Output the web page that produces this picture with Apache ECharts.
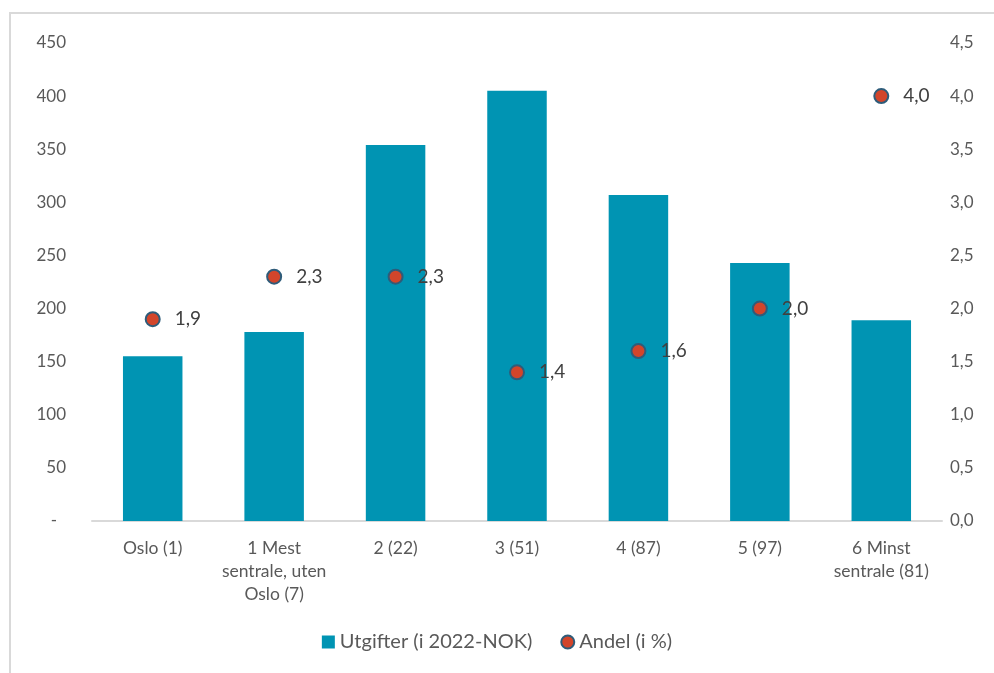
<!DOCTYPE html>
<html><head><meta charset="utf-8">
<script src="https://cdn.jsdelivr.net/npm/echarts@6/dist/echarts.min.js"></script>
<style>
html,body{margin:0;padding:0;background:#fff;}
#frame{position:absolute;left:9px;top:12px;width:1000px;height:700px;border-top:2px solid #d9d9d9;border-left:2px solid #d9d9d9;box-sizing:border-box;}
#c{position:absolute;left:0;top:0;width:994px;height:673px;}
</style></head>
<body><div id="frame"></div><div id="c"></div>
<script>
const categories = ['Oslo (1)', '1 Mest\nsentrale, uten\nOslo (7)', '2 (22)', '3 (51)', '4 (87)', '5 (97)', '6 Minst\nsentrale (81)'];
const utgifter = [155, 178, 354, 405, 307, 243, 189];
const andel = [1.9, 2.3, 2.3, 1.4, 1.6, 2.0, 4.0];
const seriesNames = ['Utgifter (i 2022-NOK)', 'Andel (i %)'];

const font = 'Lato, "Noto Sans", sans-serif';
const chart = echarts.init(document.getElementById('c'), null, {renderer:'canvas'});
chart.setOption({
  animation:false,
  textStyle:{fontFamily:font},
  grid:{left:92, right:52, top:43, bottom:152, containLabel:false},
  legend:{
    bottom:16, left:'center', itemGap:28, itemWidth:13, itemHeight:13,
    textStyle:{fontSize:20, color:'#595959', fontFamily:font},
    data:[{name:seriesNames[0], icon:'rect'}, {name:seriesNames[1], icon:'circle'}]
  },
  xAxis:{
    type:'category', data:categories,
    axisLine:{lineStyle:{color:'#d9d9d9', width:2}},
    axisTick:{show:false},
    axisLabel:{color:'#595959', fontSize:17.5, lineHeight:23, margin:16, interval:0, fontFamily:font}
  },
  yAxis:[{
    type:'value', min:0, max:450, interval:50,
    splitLine:{show:false}, axisLine:{show:false}, axisTick:{show:false},
    axisLabel:{color:'#595959', fontSize:17, margin:26, fontFamily:font,
      formatter:function(v){ return v===0 ? '{d|-}' : String(v); },
      rich:{d:{fontSize:17, color:'#595959', padding:[0,9,0,0], fontFamily:font}}}
  },{
    type:'value', min:0, max:4.5, interval:0.5,
    splitLine:{show:false}, axisLine:{show:false}, axisTick:{show:false},
    axisLabel:{color:'#595959', fontSize:17, margin:8, fontFamily:font,
      formatter:function(v){ return v.toFixed(1).replace('.', ','); }}
  }],
  series:[{
    name:seriesNames[0], type:'bar', data:utgifter, yAxisIndex:0,
    barWidth:'49%', itemStyle:{color:'#0094b3'}
  },{
    name:seriesNames[1], type:'scatter', data:andel, yAxisIndex:1,
    symbolSize:14,
    itemStyle:{color:'#d2452b', borderColor:'#2e5c7a', borderWidth:2, opacity:1},
    label:{show:true, position:'right', distance:14, color:'#404040', fontSize:19, fontFamily:font,
      formatter:function(p){ return p.value.toFixed(1).replace('.', ','); }}
  }]
});
</script></body></html>
